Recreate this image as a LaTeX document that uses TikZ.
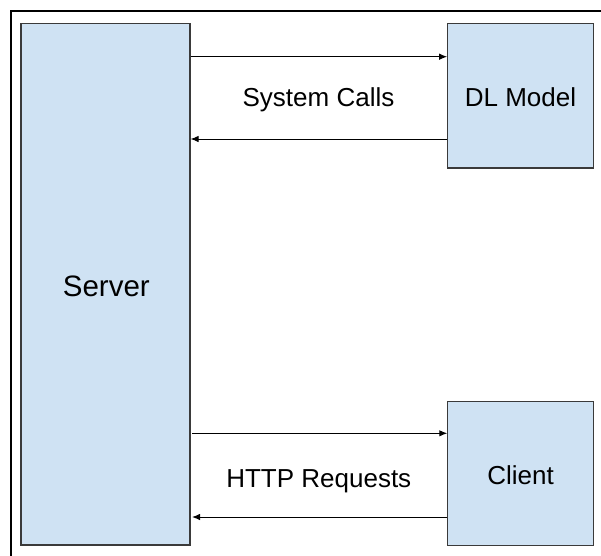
\documentclass[tikz,border=0pt]{standalone}
\usepackage{fontspec}
\setmainfont{Liberation Sans}
\usetikzlibrary{arrows.meta}
\definecolor{boxfill}{HTML}{CFE2F3}
\definecolor{boxline}{HTML}{3A3A3A}
\begin{document}
\begin{tikzpicture}[x=1pt,y=-1pt,
  block/.style={draw=boxline,fill=boxfill,line width=1.1pt,inner sep=0pt,anchor=center},
  lbl/.style={inner sep=0pt,anchor=base,font=\fontsize{26}{30}\selectfont},
  conn/.style={line width=1pt,-{Latex[length=8pt,width=6.5pt]}}]
\useasboundingbox (0,0) rectangle (601,555);
% outer frame (partly cropped)
\draw[line width=2pt] (11,556) -- (11,11) -- (602,11);
% boxes
\node[block,minimum width=169pt,minimum height=521.5pt] (srv) at (105.5,284.25) {};
\node[block,minimum width=146pt,minimum height=144.5pt] (dl) at (520.7,95.75) {};
\node[block,minimum width=146pt,minimum height=144pt] (cl) at (520.8,473.7) {};
% box labels
\node[lbl,font=\fontsize{29.5}{33}\selectfont] (srvt) at (106.3,296) {Server};
\node[lbl] (dlt) at (520.5,106.7) {DL Model};
\node[lbl] (clt) at (520.5,484) {Client};
% connectors
\coordinate (y1) at (0,56.7);
\coordinate (y2) at (0,139);
\coordinate (y3) at (0,433.3);
\coordinate (y4) at (0,517);
\draw[conn] (srv.east |- y1) -- (dl.west |- y1);
\draw[conn] (dl.west |- y2) -- (srv.east |- y2);
\coordinate (hs3) at (192,433.3);
\coordinate (hs4) at (192,517);
\draw[conn] (hs3) -- (cl.west |- y3);
\draw[conn] (cl.west |- y4) -- (hs4);
% connector labels
\node[lbl] (sc) at (318.5,106.7) {System Calls};
\node[lbl] (hr) at (318.8,487.3) {HTTP Requests};
\end{tikzpicture}
\end{document}
